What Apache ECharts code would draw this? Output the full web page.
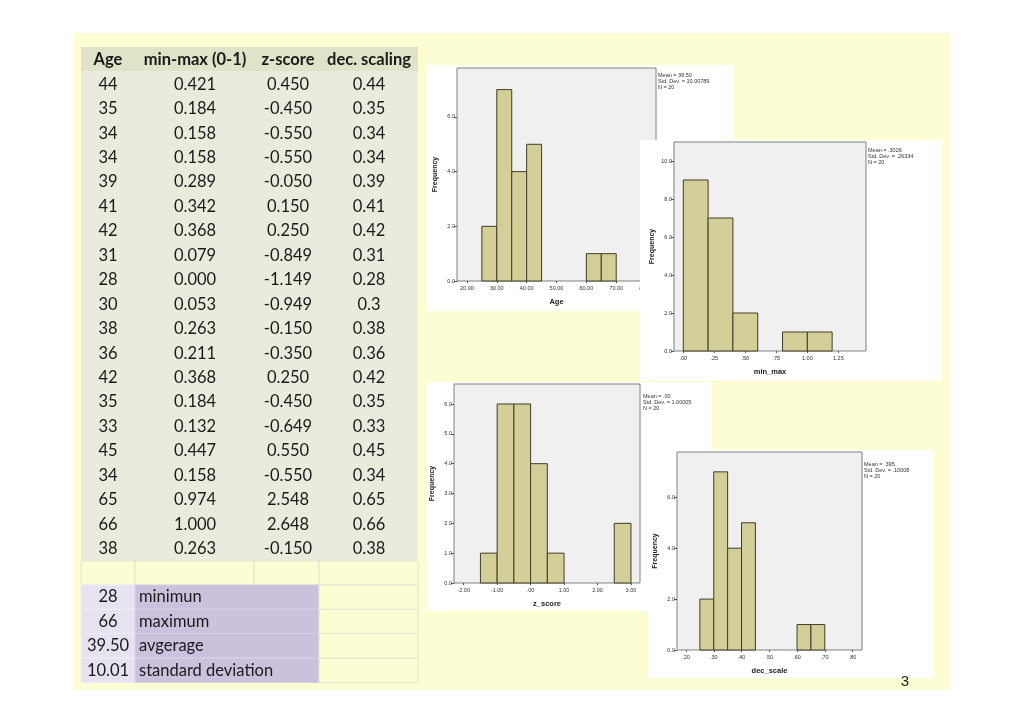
<!DOCTYPE html>
<html><head><meta charset="utf-8">
<script src="https://cdn.jsdelivr.net/npm/echarts@6/dist/echarts.min.js"></script>
<style>html,body{margin:0;padding:0;background:#fff}#c{width:1024px;height:724px}</style>
</head><body><div id="c"></div>
<script>
// ---- table data ----
const headers = ['Age', 'min-max (0-1)', 'z-score', 'dec. scaling'];
const ageVals = ['44','35','34','34','39','41','42','31','28','30','38','36','42','35','33','45','34','65','66','38'];
const minmaxVals = ['0.421','0.184','0.158','0.158','0.289','0.342','0.368','0.079','0.000','0.053','0.263','0.211','0.368','0.184','0.132','0.447','0.158','0.974','1.000','0.263'];
const zVals = ['0.450','-0.450','-0.550','-0.550','-0.050','0.150','0.250','-0.849','-1.149','-0.949','-0.150','-0.350','0.250','-0.450','-0.649','0.550','-0.550','2.548','2.648','-0.150'];
const decVals = ['0.44','0.35','0.34','0.34','0.39','0.41','0.42','0.31','0.28','0.3','0.38','0.36','0.42','0.35','0.33','0.45','0.34','0.65','0.66','0.38'];
const summaryValues = ['28', '66', '39.50', '10.01'];
const summaryLabels = ['minimun', 'maximum', 'avgerage', 'standard deviation'];

// ---- histogram data: [binStart, binEnd, frequency] ----
const ageBins = [[25,30,2],[30,35,7],[35,40,4],[40,45,5],[60,65,1],[65,70,1]];
const minmaxBins = [[0,0.2,9],[0.2,0.4,7],[0.4,0.6,2],[0.8,1.0,1],[1.0,1.2,1]];
const zBins = [[-1.5,-1,1],[-1,-0.5,6],[-0.5,0,6],[0,0.5,4],[0.5,1,1],[2.5,3,2]];
const decBins = [[0.25,0.30,2],[0.30,0.35,7],[0.35,0.40,4],[0.40,0.45,5],[0.60,0.65,1],[0.65,0.70,1]];

const ageXTicks = [20,30,40,50,60,70,80];
const minmaxXTicks = [0,0.25,0.5,0.75,1,1.25];
const zXTicks = [-2,-1,0,1,2,3];
const decXTicks = [0.2,0.3,0.4,0.5,0.6,0.7,0.8];
const ageYTicks = [0,2,4,6];
const minmaxYTicks = [0,2,4,6,8,10];
const zYTicks = [0,1,2,3,4,5,6];
const decYTicks = [0,2,4,6];

const ageStats = ['Mean = 39.50','Std. Dev. = 10.00789','N = 20'];
const minmaxStats = ['Mean = .3026','Std. Dev. = .26334','N = 20'];
const zStats = ['Mean = .00','Std. Dev. = 1.00005','N = 20'];
const decStats = ['Mean = .395','Std. Dev. = .10008','N = 20'];

// ---- layout ----
const charts = [
  {name:'Age', bins:ageBins, xt:ageXTicks, yt:ageYTicks, stats:ageStats, xr:[16.67,83.33], ymax:7.79,
   box:[427,65,307,246], grid:[457,68,199,213], fmt:v=>v.toFixed(2), statPos:[658,72]},
  {name:'min_max', bins:minmaxBins, xt:minmaxXTicks, yt:minmaxYTicks, stats:minmaxStats, xr:[-0.075,1.473], ymax:11,
   box:[640,140,302,241], grid:[674,142,192,209], fmt:v=>v.toFixed(2).replace(/^(-?)0\./,'$1.'), statPos:[868,147]},
  {name:'z_score', bins:zBins, xt:zXTicks, yt:zYTicks, stats:zStats, xr:[-2.29,3.27], ymax:6.67,
   box:[427,382,285,229], grid:[454,384,186,199], fmt:v=>v.toFixed(2).replace(/^(-?)0\./,'$1.'), statPos:[643,393]},
  {name:'dec_scale', bins:decBins, xt:decXTicks, yt:decYTicks, stats:decStats, xr:[0.1676,0.834], ymax:7.78,
   box:[648,450,286,228], grid:[677,452,185,198], fmt:v=>v.toFixed(2).replace(/^(-?)0\./,'$1.'), statPos:[864,461]}
];

const FONT_T = 'Lato, "Open Sans", sans-serif';
const FONT_S = '"Liberation Sans", Arial, sans-serif';
const graphic = [];
// yellow panel
graphic.push({type:'rect', z:0, shape:{x:74,y:33,width:876,height:657}, style:{fill:'#fdfdd3'}});
// table
const colX = [108, 195, 288, 369];
const rowY0 = 84.3, rowH = 24.45;
graphic.push({type:'rect', z:1, shape:{x:81,y:47,width:337,height:24}, style:{fill:'#dfe3c8'}});
graphic.push({type:'rect', z:1, shape:{x:81,y:71,width:337,height:490}, style:{fill:'#e9ecdd'}});
headers.forEach((h,i)=>graphic.push({type:'text', z:3, style:{text:h, x:colX[i], y:59.5, align:'center', verticalAlign:'middle', font:'bold 16.5px '+FONT_T, fill:'#1a1a1a'}}));
const cols = [ageVals, minmaxVals, zVals, decVals];
cols.forEach((col,ci)=>col.forEach((v,ri)=>graphic.push({type:'text', z:3, style:{text:v, x:colX[ci], y:rowY0+rowH*ri, align:'center', verticalAlign:'middle', font:'16.5px '+FONT_T, fill:'#1a1a1a'}})));
// blank row cells
[[81,54],[135,119],[254,65],[319,99]].forEach(c=>graphic.push({type:'rect', z:1, shape:{x:c[0],y:561,width:c[1],height:24}, style:{fill:'#fdfdd3', stroke:'#e4e4d0', lineWidth:1}}));
// summary rows
const sTop = [585,609.3,633.5,658];
sTop.forEach((t,i)=>{
  const h = (i<3? sTop[i+1]-t : 24.5);
  graphic.push({type:'rect', z:1, shape:{x:81,y:t,width:54,height:h}, style:{fill:'#e6e2ef', stroke:'#f0eef4', lineWidth:1}});
  graphic.push({type:'rect', z:1, shape:{x:135,y:t,width:184,height:h}, style:{fill:'#ccc1dd', stroke:'#d8d0e6', lineWidth:1}});
  graphic.push({type:'rect', z:1, shape:{x:319,y:t,width:99,height:h}, style:{fill:'#fdfdd3', stroke:'#e4e4d0', lineWidth:1}});
  graphic.push({type:'text', z:3, style:{text:summaryValues[i], x:108, y:t+h/2, align:'center', verticalAlign:'middle', font:'16.5px '+FONT_T, fill:'#1a1a1a'}});
  graphic.push({type:'text', z:3, style:{text:summaryLabels[i], x:139, y:t+h/2, align:'left', verticalAlign:'middle', font:'16.5px '+FONT_T, fill:'#1a1a1a'}});
});
// slide number
graphic.push({type:'text', z:60, style:{text:'3', x:905, y:682, align:'center', verticalAlign:'middle', font:'15px '+FONT_S, fill:'#222'}});

const grid=[], xAxis=[], yAxis=[], series=[];
charts.forEach((c,k)=>{
  const zb = 10*(k+1);
  graphic.push({type:'rect', z:zb, shape:{x:c.box[0],y:c.box[1],width:c.box[2],height:c.box[3]}, style:{fill:'#ffffff'}});
  graphic.push({type:'text', z:zb+3, style:{text:c.stats.join('\n'), x:c.statPos[0], y:c.statPos[1], align:'left', verticalAlign:'top', font:'5.5px '+FONT_S, lineHeight:6, fill:'#333'}});
  grid.push({left:c.grid[0], top:c.grid[1], width:c.grid[2], height:c.grid[3], show:true, backgroundColor:'#f0f0f0', borderColor:'#808080', borderWidth:1, z:zb+1});
  xAxis.push({type:'value', gridIndex:k, min:c.xr[0], max:c.xr[1], z:zb+2,
    name:c.name, nameLocation:'middle', nameGap:17, nameTextStyle:{fontFamily:FONT_S, fontWeight:'bold', fontSize:7.5, color:'#222'},
    axisLine:{show:false, onZero:false}, splitLine:{show:false},
    axisTick:{show:true, length:2, customValues:c.xt, lineStyle:{color:'#555'}},
    axisLabel:{customValues:c.xt, formatter:c.fmt, fontFamily:FONT_S, fontSize:5.5, color:'#333', margin:4}});
  yAxis.push({type:'value', gridIndex:k, min:0, max:c.ymax, z:zb+2,
    name:'Frequency', nameLocation:'middle', nameGap:18, nameTextStyle:{fontFamily:FONT_S, fontWeight:'bold', fontSize:7, color:'#222'},
    axisLine:{show:false, onZero:false}, splitLine:{show:false},
    axisTick:{show:true, length:3, customValues:c.yt, lineStyle:{color:'#555'}},
    axisLabel:{customValues:c.yt, formatter:v=>v.toFixed(1), fontFamily:FONT_S, fontSize:5.5, color:'#333', margin:2}});
  series.push({type:'custom', xAxisIndex:k, yAxisIndex:k, z:zb+3, data:c.bins, encode:{x:[0,1], y:2},
    renderItem:(params, api)=>{
      const p0 = api.coord([api.value(0), api.value(2)]);
      const p1 = api.coord([api.value(1), 0]);
      return {type:'rect', shape:{x:p0[0], y:p0[1], width:p1[0]-p0[0], height:p1[1]-p0[1]},
        style:{fill:'#d4cf98', stroke:'#3e3e26', lineWidth:1}};
    }});
});

const chart = echarts.init(document.getElementById('c'));
chart.setOption({animation:false, backgroundColor:'#ffffff', graphic, grid, xAxis, yAxis, series});
</script>
</body></html>
